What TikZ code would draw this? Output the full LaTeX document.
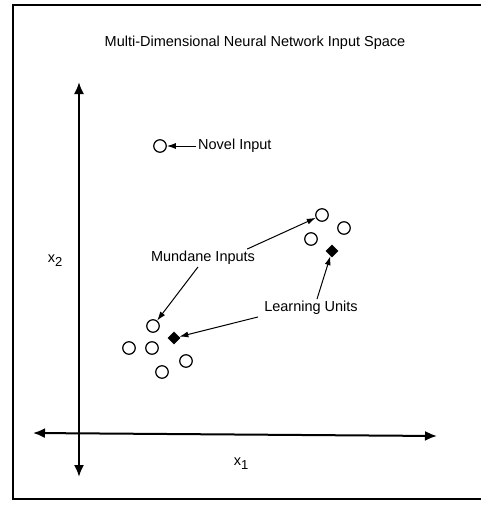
\documentclass[tikz,border=0pt]{standalone}
\usepackage{fontspec}
\setmainfont{Liberation Sans}
\usetikzlibrary{arrows.meta,positioning,shapes.geometric}
\tikzset{
  input/.style   = {circle, draw, line width=1.2pt, minimum size=12.5pt, inner sep=0pt},
  learn/.style   = {diamond, fill=black, minimum size=13pt, inner sep=0pt},
  lab/.style     = {font=\fontsize{14.5}{17}\selectfont, inner sep=2pt},
  pointer/.style = {-{Latex[length=9pt,width=6pt]}, line width=1pt},
  axis/.style    = {{Latex[length=12pt,width=10pt]}-{Latex[length=12pt,width=10pt]}, line width=2pt},
}
\newcommand{\sublab}[1]{x\raisebox{-0.5ex}{\fontsize{13}{15}\selectfont #1}}

\begin{document}
\begin{tikzpicture}[x=1pt, y=-1pt]
  \useasboundingbox (0,0) rectangle (480,506);

  % frame, open on the right
  \draw[line width=1.5pt] (482,5) -- (13,5) -- (13,499) -- (482,499);

  \node[lab] (title) at (255,43) {Multi-Dimensional Neural Network Input Space};

  % axes
  \coordinate (ytop) at (79,82);
  \coordinate (ybot) at (79,477);
  \coordinate (xleft) at (33,433);
  \coordinate (xright) at (437,436);
  \draw[axis] (ybot) -- (ytop);
  \draw[axis] (xleft) -- (xright);
  \node[lab] (xlab1) at (241,464) {\sublab{1}};
  \node[lab] (xlab2) at (55,261) {\sublab{2}};

  % inputs
  \node[input] (novel) at (160,146) {};
  \node[input] (m1) at (322,215) {};
  \node[input] (m2) at (344,228) {};
  \node[input] (m3) at (311,239) {};
  \node[input] (m4) at (153,326) {};
  \node[input] (m5) at (129,348) {};
  \node[input] (m6) at (152,348) {};
  \node[input] (m7) at (186,361) {};
  \node[input] (m8) at (162,372) {};

  % learning units
  \node[learn] (l1) at (332,251) {};
  \node[learn] (l2) at (174,338) {};

  % labels and pointers
  \node[lab, anchor=west] (novellab) at (196,146) {Novel Input};
  \node[lab] (mundane) at (203,258) {Mundane Inputs};
  \node[lab] (learning) at (311,308) {Learning Units};

  \draw[pointer] (novellab.west) -- (novel);
  \draw[pointer] ([xshift=-10pt]mundane.north east) -- (m1);
  \draw[pointer] ([xshift=-5pt]mundane.south) -- (m4);
  \draw[pointer] ([xshift=6pt]learning.north) -- (l1);
  \draw[pointer] ([xshift=-4pt]learning.south west) -- (l2);
\end{tikzpicture}
\end{document}
